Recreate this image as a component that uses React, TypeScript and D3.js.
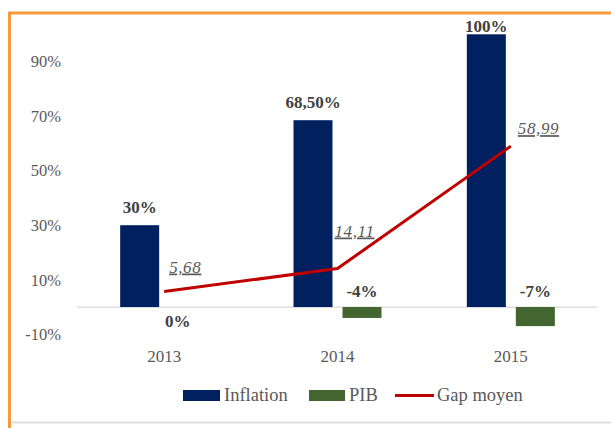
import React from "react";
import * as d3 from "d3";

const years = ["2013", "2014", "2015"];
const inflation = [30, 68.5, 100];
const inflationLabels = ["30%", "68,50%", "100%"];
const pib = [0, -4, -7];
const pibLabels = ["0%", "-4%", "-7%"];
const gap = [5.68, 14.11, 58.99];
const gapLabels = ["5,68", "14,11", "58,99"];
const yTicks = [-10, 10, 30, 50, 70, 90];
const legendItems = ["Inflation", "PIB", "Gap moyen"];

const W = 611;
const H = 428;
const NAVY = "#002060";
const GREEN = "#43652F";
const RED = "#C00000";
const FONT = "'Liberation Serif', 'Times New Roman', serif";

// label placement offsets (layout, not data)
const gapLabelOffsets: [number, number][] = [
  [5, -19],
  [-3, -32],
  [7, -12],
];

export default function App() {
  const x = d3.scaleBand<string>().domain(years).range([77.5, 597.5]).padding(0);
  const y = d3.scaleLinear().domain([-10, 100]).range([334.3, 34.3]);
  const barW = 39;
  const gapW = 5;
  const cx = (d: string) => (x(d) as number) + x.bandwidth() / 2;
  const y0 = y(0);

  const line = d3
    .line<number>()
    .x((_, i) => cx(years[i]))
    .y((d) => y(d));

  return (
    <svg
      width={W}
      height={H}
      style={{ position: "absolute", left: 0, top: 0, display: "block" }}
      fontFamily={FONT}
    >
      <rect x={0} y={0} width={W} height={H} fill="#fff" />
      {/* frame */}
      <line x1={9.5} y1={13} x2={9.5} y2={H} stroke="#F79A3A" strokeWidth={3} />
      <line x1={8} y1={13} x2={W} y2={13} stroke="#F79A3A" strokeWidth={3} />
      <line x1={11} y1={422.5} x2={W} y2={422.5} stroke="#DDDDDD" strokeWidth={2} />

      {/* y tick labels */}
      {yTicks.map((t) => (
        <text
          key={t}
          x={61}
          y={y(t)}
          dy="0.35em"
          textAnchor="end"
          fontSize={16.5}
          fill="#595959"
        >
          {t}%
        </text>
      ))}

      {/* zero line */}
      <line x1={77} x2={597} y1={y0} y2={y0} stroke="#D9D9D9" strokeWidth={1.2} />

      {/* inflation bars */}
      {years.map((yr, i) => (
        <rect
          key={"inf" + yr}
          x={cx(yr) - gapW - barW}
          y={y(inflation[i])}
          width={barW}
          height={y0 - y(inflation[i])}
          fill={NAVY}
        />
      ))}
      {/* pib bars */}
      {years.map((yr, i) => (
        <rect
          key={"pib" + yr}
          x={cx(yr) + gapW}
          y={Math.min(y0, y(pib[i]))}
          width={barW}
          height={Math.abs(y(pib[i]) - y0)}
          fill={GREEN}
        />
      ))}

      {/* gap line */}
      <path d={line(gap) || ""} fill="none" stroke={RED} strokeWidth={3} strokeLinejoin="round" />

      {/* inflation labels */}
      {years.map((yr, i) => (
        <text
          key={"il" + yr}
          x={cx(yr) - gapW - barW / 2}
          y={Math.max(32, y(inflation[i]) - 12)}
          textAnchor="middle"
          fontSize={17}
          fontWeight="bold"
          fill="#404040"
        >
          {inflationLabels[i]}
        </text>
      ))}
      {/* pib labels */}
      {years.map((yr, i) => (
        <text
          key={"pl" + yr}
          x={cx(yr) + gapW + barW / 2 - (pib[i] === 0 ? 11 : 0)}
          y={pib[i] === 0 ? y0 + 20 : y0 - 10}
          textAnchor="middle"
          fontSize={17}
          fontWeight="bold"
          fill="#404040"
        >
          {pibLabels[i]}
        </text>
      ))}
      {/* gap labels */}
      {years.map((yr, i) => (
        <text
          key={"gl" + yr}
          x={cx(yr) + gapLabelOffsets[i][0]}
          y={y(gap[i]) + gapLabelOffsets[i][1]}
          fontSize={17}
          fontStyle="italic"
          fill="#595959"
          textDecoration="underline"
          letterSpacing={0.6}
        >
          {gapLabels[i]}
        </text>
      ))}

      {/* x labels */}
      {years.map((yr) => (
        <text key={"x" + yr} x={cx(yr)} y={362} textAnchor="middle" fontSize={17} fill="#595959">
          {yr}
        </text>
      ))}

      {/* legend */}
      <g>
        <rect x={183} y={390} width={37} height={11} fill={NAVY} />
        <text x={224} y={401} fontSize={18.5} fill="#595959">
          {legendItems[0]}
        </text>
        <rect x={309} y={390} width={36} height={11} fill={GREEN} />
        <text x={349} y={401} fontSize={18.5} fill="#595959">
          {legendItems[1]}
        </text>
        <line x1={395} x2={434} y1={395.5} y2={395.5} stroke={RED} strokeWidth={3} />
        <text x={437} y={401} fontSize={18.5} fill="#595959">
          {legendItems[2]}
        </text>
      </g>
    </svg>
  );
}
